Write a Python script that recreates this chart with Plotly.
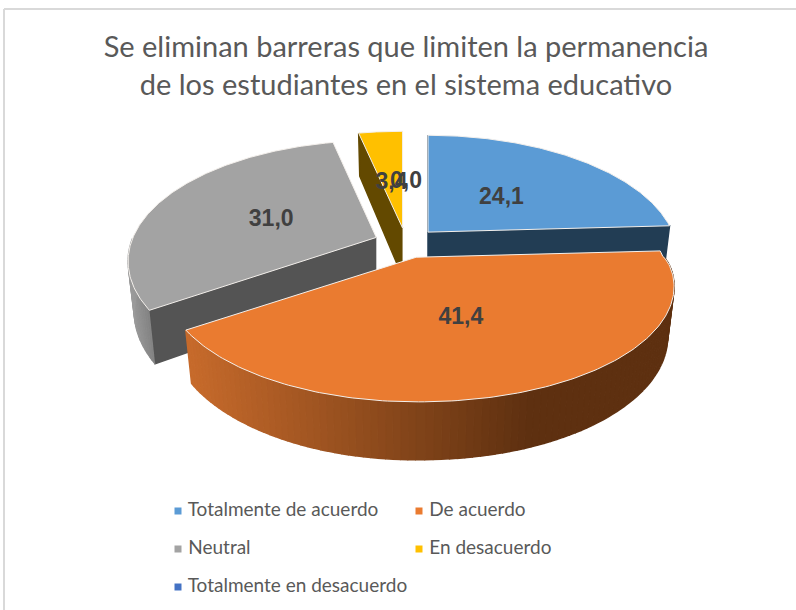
import numpy as np
import plotly.graph_objects as go

title_lines = ["Se eliminan barreras que limiten la permanencia",
               "de los estudiantes en el sistema educativo"]
categories = ["Totalmente de acuerdo", "De acuerdo", "Neutral", "En desacuerdo",
              "Totalmente en desacuerdo"]
values = [24.1, 41.4, 31.0, 3.4, 0.0]
top_colors = ["#5b9bd5", "#ea7b30", "#a3a3a3", "#ffc000", "#4472c4"]
face_colors = ["#223d54", "#8a4a1c", "#545454", "#634900", "#263f6c"]
label_fractions = [0.5, 0.43, 0.5, 0.5, 0.5]
rim_stretch = [0.99, 1.0, 0.985, 1.0, 1.0]
# which cut faces of each slice can be seen from the viewpoint (0 = start edge, 1 = end edge)
visible_faces = [(0, 1), (), (0,), (0,), ()]

# projection of the tilted, exploded 3-D pie onto the 796x610 pixel canvas
CX, CY = 406.0, 243.0
RX, RY = 247.0, 116.0
PERSP = 0.198
EX, EY = 32.0, 15.0
BOTTOM_SHRINK = 0.975
FRONT_RIGHT_BULGE = 9.0


def scale(t):
    return 1.0 / (1.0 + PERSP * np.cos(t))


def radial(t, i):
    s = scale(t)
    bulge = FRONT_RIGHT_BULGE * np.sqrt(np.clip(np.sin(2 * t - np.pi), 0, 1)) * (
        (t > np.pi / 2) & (t < np.pi))
    return rim_stretch[i] * RX * np.sin(t) * s + bulge, -RY * np.cos(t) * s


def wall(s):
    return 12.3 + 36.6 * s


def mix(c1, c2, f):
    f = float(np.clip(f, 0, 1))
    a = [int(c1[i:i + 2], 16) for i in (1, 3, 5)]
    b = [int(c2[i:i + 2], 16) for i in (1, 3, 5)]
    return "rgb(%d,%d,%d)" % tuple(round(p + (q - p) * f) for p, q in zip(a, b))


fig = go.Figure()


def poly(xs, ys, fill, line=None, width=0):
    fig.add_trace(go.Scatter(
        x=list(xs), y=list(ys), mode="lines", fill="toself", fillcolor=fill,
        line=dict(color=line or fill, width=width if line else 1.5),
        hoverinfo="skip", showlegend=False))


total = sum(values)
edges = np.concatenate([[0.0], np.cumsum(values)]) / total * 2 * np.pi
mids = (edges[:-1] + edges[1:]) / 2
apex_x = CX + EX * np.sin(mids)
apex_y = CY - EY * np.cos(mids)


def draw_face(i, t):
    ax, ay = apex_x[i], apex_y[i]
    rx, ry = radial(t, i)
    poly([ax, ax + rx, ax + BOTTOM_SHRINK * rx, ax],
         [ay, ay + ry, ay + ry + wall(scale(t)), ay + wall(1.0)],
         face_colors[i])


def rim_color(i, x):
    if i == 1:
        return mix("#c66a2b", "#5e3010", (x - 190) / (530 - 190))
    if i == 2:
        return mix("#9c9c9c", "#7c7c7c", (x - 127) / (155 - 127))
    return face_colors[i]


def draw_slice(i):
    t0, t1 = edges[i], edges[i + 1]
    if t1 - t0 <= 0:
        return
    ax, ay = apex_x[i], apex_y[i]
    for which in visible_faces[i]:
        draw_face(i, (t0, t1)[which])
    n = max(4, int((t1 - t0) / 0.025))
    ts = np.linspace(t0, t1, n + 1)
    for a, b in zip(ts[:-1], ts[1:]):
        if np.cos((a + b) / 2) > 0.0:   # the far part of the rim is out of sight
            continue
        ra, rb = radial(a, i), radial(b, i)
        x = ax + (ra[0] + rb[0]) / 2
        col = rim_color(i, x)
        poly([ax + ra[0], ax + rb[0], ax + BOTTOM_SHRINK * rb[0], ax + BOTTOM_SHRINK * ra[0]],
             [ay + ra[1], ay + rb[1], ay + rb[1] + wall(scale(b)), ay + ra[1] + wall(scale(a))],
             col)
    fine = np.linspace(t0, t1, 160)
    px, py = radial(fine, i)
    poly(np.r_[ax, ax + px, ax], np.r_[ay, ay + py, ay], top_colors[i],
         line="#f4f0ec", width=1)


for idx in (0, 3, 2, 1):
    draw_slice(idx)

# data labels
LABEL_DY = 3.0
fig.add_trace(go.Scatter(
    x=[apex_x[i] + label_fractions[i] * radial(mids[i], i)[0] for i in range(5)],
    y=[apex_y[i] + label_fractions[i] * radial(mids[i], i)[1] + LABEL_DY for i in range(5)],
    mode="text",
    text=[f"{v:.1f}".replace(".", ",") for v in values],
    textposition="middle center",
    textfont=dict(family="Liberation Sans", size=23, color="#404040", weight="bold"),
    hoverinfo="skip", showlegend=False))

# legend, laid out as in the source (two columns, three rows)
COLS = [178.0, 419.0]
ROWS = [511.0, 549.0, 587.0]
for i, name in enumerate(categories):
    fig.add_trace(go.Scatter(
        x=[COLS[i % 2]], y=[ROWS[i // 2]], mode="markers+text",
        marker=dict(symbol="square", size=7, color=top_colors[i]),
        text=[" " + name], textposition="middle right",
        textfont=dict(family="Lato", size=19, color="#595959"),
        hoverinfo="skip", showlegend=False))

fig.update_layout(
    width=796, height=610, autosize=False,
    margin=dict(l=0, r=0, t=0, b=0),
    paper_bgcolor="white", plot_bgcolor="white",
    xaxis=dict(range=[0, 796], visible=False, fixedrange=True),
    yaxis=dict(range=[610, 0], visible=False, fixedrange=True),
    showlegend=False,
    title=dict(text="<br>".join(title_lines), x=406 / 796, xanchor="center", xref="paper",
               y=1 - 57 / 610, yanchor="middle", yref="container",
               font=dict(family="Lato", size=29, color="#595959")),
    shapes=[
        dict(type="line", x0=4, x1=796, y0=9, y1=9, line=dict(color="#d9d9d9", width=2)),
        dict(type="line", x0=4, x1=4, y0=9, y1=610, line=dict(color="#d9d9d9", width=2)),
    ],
)

fig.write_html("out.html", post_script="document.body.style.margin='0';",
               config={"displayModeBar": False})
